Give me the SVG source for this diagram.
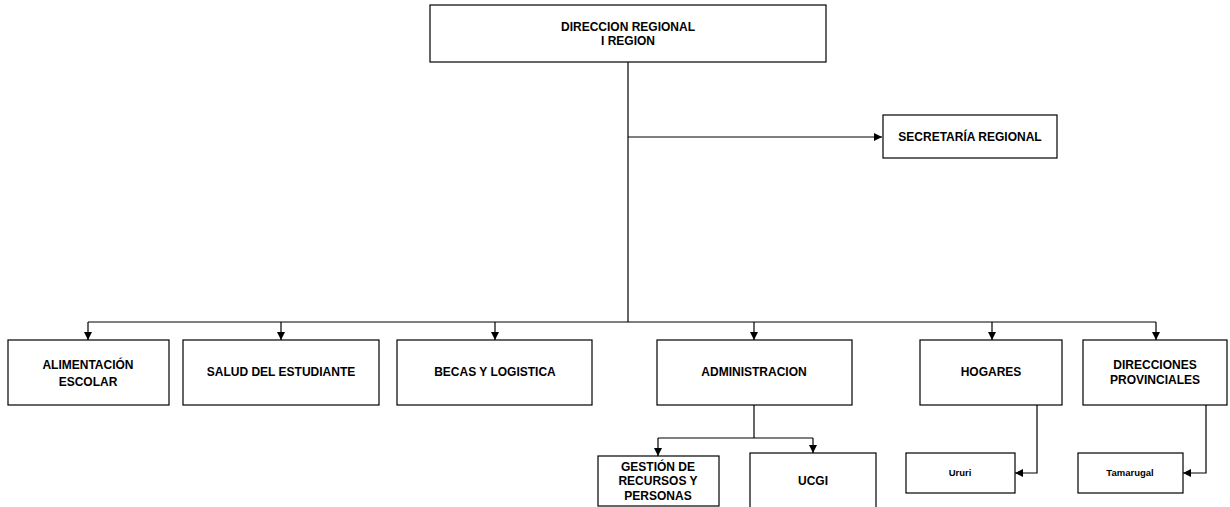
<svg xmlns="http://www.w3.org/2000/svg" width="1230" height="507" viewBox="0 0 1230 507">
<defs>
<marker id="ah" markerUnits="userSpaceOnUse" markerWidth="8" markerHeight="8" viewBox="0 0 8 8" refX="8" refY="4" orient="auto"><path d="M0,0 L8,4 L0,8 Z" fill="#000"/></marker>
</defs>
<style>
rect{fill:#fff;stroke:#000;stroke-width:1.2}
text{font-family:"Liberation Sans",Arial,sans-serif;font-weight:bold;font-size:12px;text-anchor:middle;fill:#000}
.s{font-size:9.5px}
.c{fill:none;stroke:#000;stroke-width:1.2}
</style>
<rect width="1230" height="507" style="fill:#fff;stroke:none"/>
<g id="connectors">
<path class="c" d="M628,62 V322"/>
<path class="c" d="M628,137 H882" marker-end="url(#ah)"/>
<path class="c" d="M88,322 H1156"/>
<path class="c" d="M88,322 V340" marker-end="url(#ah)"/>
<path class="c" d="M281,322 V340" marker-end="url(#ah)"/>
<path class="c" d="M495,322 V340" marker-end="url(#ah)"/>
<path class="c" d="M754,322 V340" marker-end="url(#ah)"/>
<path class="c" d="M992,322 V340" marker-end="url(#ah)"/>
<path class="c" d="M1156,322 V340" marker-end="url(#ah)"/>
<path class="c" d="M754,405 V438"/>
<path class="c" d="M658,438 H813"/>
<path class="c" d="M658,438 V456" marker-end="url(#ah)"/>
<path class="c" d="M813,438 V453" marker-end="url(#ah)"/>
<path class="c" d="M1037,405 V473 H1015" marker-end="url(#ah)"/>
<path class="c" d="M1206,405 V473 H1183" marker-end="url(#ah)"/>
</g>
<g id="n-direccion"><rect x="430" y="5" width="396" height="57"/><text x="628" y="31">DIRECCION REGIONAL</text><text x="628" y="45">I REGION</text></g>
<g id="n-secretaria"><rect x="883" y="115" width="174" height="43"/><text x="970" y="141">SECRETARÍA REGIONAL</text></g>
<g id="n-alimentacion"><rect x="8" y="340" width="161" height="65"/><text x="88" y="369">ALIMENTACIÓN</text><text x="88" y="386">ESCOLAR</text></g>
<g id="n-salud"><rect x="183" y="340" width="196" height="65"/><text x="281" y="376">SALUD DEL ESTUDIANTE</text></g>
<g id="n-becas"><rect x="397" y="340" width="195" height="65"/><text x="495" y="376">BECAS Y LOGISTICA</text></g>
<g id="n-administracion"><rect x="657" y="340" width="195" height="65"/><text x="754" y="376">ADMINISTRACION</text></g>
<g id="n-hogares"><rect x="920" y="340" width="142" height="65"/><text x="991" y="376">HOGARES</text></g>
<g id="n-provinciales"><rect x="1083" y="340" width="144" height="65"/><text x="1155" y="369">DIRECCIONES</text><text x="1155" y="384">PROVINCIALES</text></g>
<g id="n-gestion"><rect x="598" y="456" width="121" height="50"/><text x="658" y="471">GESTIÓN DE</text><text x="658" y="485">RECURSOS Y</text><text x="658" y="500">PERSONAS</text></g>
<g id="n-ucgi"><rect x="750" y="453" width="126" height="60"/><text x="813" y="485">UCGI</text></g>
<g id="n-ururi"><rect x="906" y="453" width="109" height="40"/><text class="s" x="960" y="476">Ururi</text></g>
<g id="n-tamarugal"><rect x="1078" y="453" width="105" height="40"/><text class="s" x="1130" y="476">Tamarugal</text></g>
</svg>
